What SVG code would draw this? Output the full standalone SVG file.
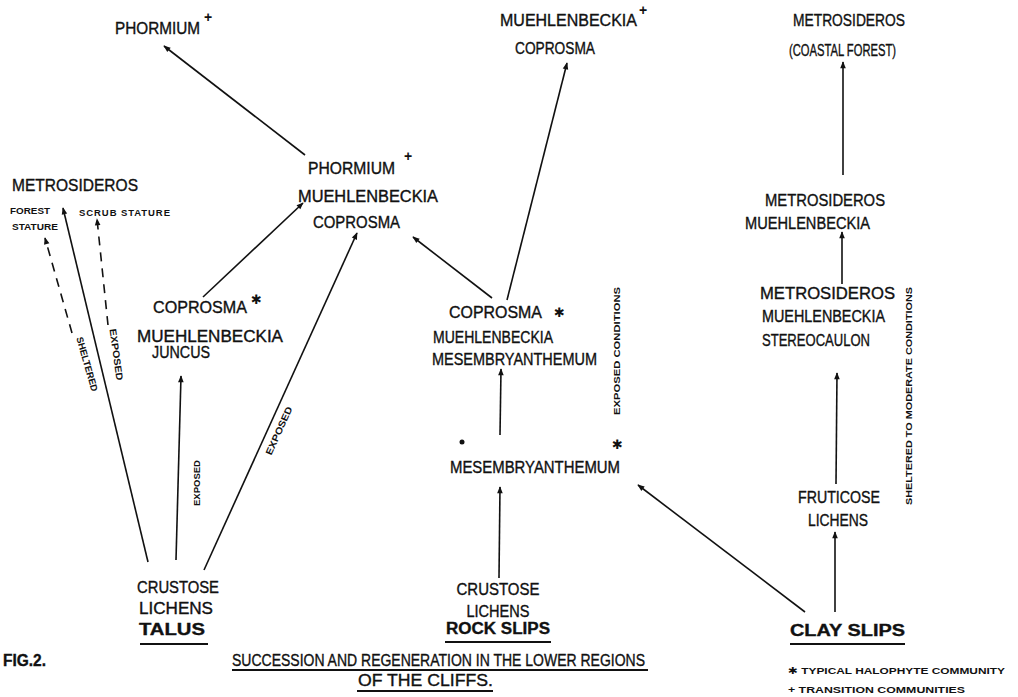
<svg xmlns="http://www.w3.org/2000/svg" width="1018" height="697" viewBox="0 0 1018 697">
<style>
.t{font-family:"Liberation Sans","DejaVu Sans",Arial,sans-serif;font-size:16px;fill:#111;stroke:#111;stroke-width:0.35;}
.s{font-family:"Liberation Sans","DejaVu Sans",Arial,sans-serif;font-size:9.5px;font-weight:bold;fill:#111;}
.sup{font-family:"Liberation Sans","DejaVu Sans",Arial,sans-serif;font-size:14px;font-weight:bold;fill:#111;}
.ast{font-family:"DejaVu Sans",sans-serif;font-size:13px;fill:#111;}
.ln{stroke:#111;stroke-width:1.6;fill:none;marker-end:url(#ah);}
.dl{stroke:#111;stroke-width:1.6;fill:none;stroke-dasharray:9 7;marker-end:url(#ah);}
.ul{stroke:#111;stroke-width:2;}
</style>
<defs>
<marker id="ah" viewBox="0 0 10 10" refX="9" refY="5" markerWidth="8" markerHeight="7" markerUnits="userSpaceOnUse" orient="auto">
<path d="M0,1 L10,5 L0,9 z" fill="#111"/>
</marker>
</defs>
<rect width="1018" height="697" fill="#fff"/>

<g id="connectors">
<line class="ln" x1="305" y1="155" x2="164" y2="46"/>
<line class="ln" x1="203" y1="297" x2="303" y2="203"/>
<line class="ln" x1="176" y1="560" x2="181" y2="376"/>
<line class="ln" x1="148" y1="562" x2="63" y2="208"/>
<line class="ln" x1="204" y1="570" x2="357" y2="233"/>
<line class="dl" x1="72" y1="333" x2="45" y2="238"/>
<line class="dl" x1="108" y1="325" x2="97" y2="219"/>
<line class="ln" x1="492" y1="298" x2="413" y2="237"/>
<line class="ln" x1="507" y1="300" x2="567" y2="63"/>
<line class="ln" x1="500" y1="435" x2="501" y2="369"/>
<line class="ln" x1="499" y1="578" x2="500" y2="487"/>
<line class="ln" x1="805" y1="612" x2="638" y2="485"/>
<line class="ln" x1="835" y1="612" x2="835" y2="532"/>
<line class="ln" x1="836" y1="484" x2="837" y2="373"/>
<line class="ln" x1="842" y1="284" x2="842" y2="232"/>
<line class="ln" x1="843" y1="175" x2="843" y2="62"/>
<text class="s" transform="translate(84,365) rotate(74)" text-anchor="middle" textLength="56" lengthAdjust="spacingAndGlyphs">SHELTERED</text>
<text class="s" transform="translate(113,355) rotate(82)" text-anchor="middle" textLength="52" lengthAdjust="spacingAndGlyphs">EXPOSED</text>
<text class="s" transform="translate(200,483) rotate(-90)" text-anchor="middle" textLength="46" lengthAdjust="spacingAndGlyphs">EXPOSED</text>
<text class="s" transform="translate(282,432) rotate(-65.6)" text-anchor="middle" textLength="52" lengthAdjust="spacingAndGlyphs">EXPOSED</text>
<text class="s" transform="translate(620,351) rotate(-90)" text-anchor="middle" textLength="128" lengthAdjust="spacingAndGlyphs">EXPOSED CONDITIONS</text>
<text class="s" transform="translate(912,396) rotate(-90)" text-anchor="middle" textLength="218" lengthAdjust="spacingAndGlyphs">SHELTERED TO MODERATE CONDITIONS</text>
</g>

<g id="n-phormium-top">
<text class="t" x="115" y="34" textLength="85" lengthAdjust="spacingAndGlyphs">PHORMIUM</text>
<text class="sup" x="204" y="22">+</text>
</g>

<g id="n-muehl-copr-top">
<text class="t" x="500" y="26" font-size="14.5">MUEHLENBECKIA<tspan class="sup" font-size="12" dx="2" dy="-11" stroke="none">+</tspan></text>
<text class="t" x="515" y="54" textLength="80" lengthAdjust="spacingAndGlyphs">COPROSMA</text>
</g>

<g id="n-metro-coastal">
<text class="t" x="793" y="26" textLength="112" lengthAdjust="spacingAndGlyphs">METROSIDEROS</text>
<text class="t" x="789" y="56" textLength="107" lengthAdjust="spacingAndGlyphs">(COASTAL FOREST)</text>
</g>

<g id="n-metro-left">
<text class="t" x="12" y="191" textLength="126" lengthAdjust="spacingAndGlyphs">METROSIDEROS</text>
<text class="s" x="10" y="214" textLength="40" lengthAdjust="spacingAndGlyphs">FOREST</text>
<text class="s" x="12" y="230" textLength="46" lengthAdjust="spacingAndGlyphs">STATURE</text>
<text class="s" x="79" y="216" textLength="91" lengthAdjust="spacing">SCRUB STATURE</text>
</g>

<g id="n-phormium-center">
<text class="t" x="308" y="174" textLength="87" lengthAdjust="spacingAndGlyphs">PHORMIUM</text>
<text class="sup" x="404" y="161">+</text>
<text class="t" x="298" y="202" textLength="140" lengthAdjust="spacingAndGlyphs">MUEHLENBECKIA</text>
<text class="t" x="313" y="228" textLength="87" lengthAdjust="spacingAndGlyphs">COPROSMA</text>
</g>

<g id="n-coprosma-juncus">
<text class="t" x="153" y="313" textLength="94" lengthAdjust="spacingAndGlyphs">COPROSMA</text>
<text class="ast" x="251" y="304">✱</text>
<text class="t" x="137" y="342" textLength="146" lengthAdjust="spacingAndGlyphs">MUEHLENBECKIA</text>
<text class="t" x="152" y="358" textLength="58" lengthAdjust="spacingAndGlyphs">JUNCUS</text>
</g>

<g id="n-coprosma-mesem">
<text class="t" x="449" y="318" textLength="93" lengthAdjust="spacingAndGlyphs">COPROSMA</text>
<text class="ast" x="554" y="317">✱</text>
<text class="t" x="433" y="343" textLength="120" lengthAdjust="spacingAndGlyphs">MUEHLENBECKIA</text>
<text class="t" x="432" y="365" textLength="165" lengthAdjust="spacingAndGlyphs">MESEMBRYANTHEMUM</text>
</g>

<g id="n-mesem">
<circle cx="462" cy="442" r="2.5" fill="#111"/>
<text class="ast" x="612" y="449">✱</text>
<text class="t" x="450" y="473" textLength="170" lengthAdjust="spacingAndGlyphs">MESEMBRYANTHEMUM</text>
</g>

<g id="n-rock-slips">
<text class="t" x="498" y="595" text-anchor="middle" textLength="83" lengthAdjust="spacingAndGlyphs">CRUSTOSE</text>
<text class="t" x="498" y="617" text-anchor="middle" textLength="63" lengthAdjust="spacingAndGlyphs">LICHENS</text>
<text class="t" x="498" y="634" text-anchor="middle" textLength="104" lengthAdjust="spacingAndGlyphs" font-weight="bold">ROCK SLIPS</text>
<line class="ul" x1="445" y1="642" x2="551" y2="642"/>
</g>

<g id="n-talus">
<text class="t" x="178" y="593" text-anchor="middle" textLength="82" lengthAdjust="spacingAndGlyphs">CRUSTOSE</text>
<text class="t" x="176" y="614" text-anchor="middle" textLength="74" lengthAdjust="spacingAndGlyphs">LICHENS</text>
<text class="t" x="172" y="635" text-anchor="middle" textLength="66" lengthAdjust="spacingAndGlyphs" font-weight="bold">TALUS</text>
<line class="ul" x1="140" y1="644" x2="208" y2="644"/>
</g>

<g id="n-metro-muehl">
<text class="t" x="765" y="206" textLength="120" lengthAdjust="spacingAndGlyphs">METROSIDEROS</text>
<text class="t" x="745" y="229" textLength="125" lengthAdjust="spacingAndGlyphs">MUEHLENBECKIA</text>
</g>

<g id="n-metro-stereo">
<text class="t" x="760" y="299" textLength="135" lengthAdjust="spacingAndGlyphs">METROSIDEROS</text>
<text class="t" x="762" y="322" textLength="123" lengthAdjust="spacingAndGlyphs">MUEHLENBECKIA</text>
<text class="t" x="762" y="346" textLength="108" lengthAdjust="spacingAndGlyphs">STEREOCAULON</text>
</g>

<g id="n-fruticose">
<text class="t" x="798" y="503" textLength="82" lengthAdjust="spacingAndGlyphs">FRUTICOSE</text>
<text class="t" x="808" y="526" textLength="60" lengthAdjust="spacingAndGlyphs">LICHENS</text>
</g>

<g id="n-clay-slips">
<text class="t" x="790" y="636" textLength="115" lengthAdjust="spacingAndGlyphs" font-weight="bold">CLAY SLIPS</text>
<line class="ul" x1="790" y1="644" x2="905" y2="644"/>
</g>

<g id="title">
<text class="t" x="3" y="666" font-weight="bold" font-size="13" textLength="43" lengthAdjust="spacingAndGlyphs">FIG.2.</text>
<text class="t" x="232" y="666" font-size="14" textLength="413" lengthAdjust="spacingAndGlyphs">SUCCESSION AND REGENERATION IN THE LOWER REGIONS</text>
<line class="ul" x1="232" y1="670" x2="648" y2="670" stroke-width="1.5"/>
<text class="t" x="358" y="686" font-size="14" textLength="135" lengthAdjust="spacingAndGlyphs">OF THE CLIFFS.</text>
<line class="ul" x1="357" y1="691" x2="493" y2="691" stroke-width="1.5"/>
</g>

<g id="legend">
<text class="s" x="788" y="674" textLength="217" lengthAdjust="spacingAndGlyphs">✱  TYPICAL  HALOPHYTE COMMUNITY</text>
<text class="s" x="788" y="693" textLength="177" lengthAdjust="spacingAndGlyphs">+  TRANSITION COMMUNITIES</text>
</g>
</svg>
